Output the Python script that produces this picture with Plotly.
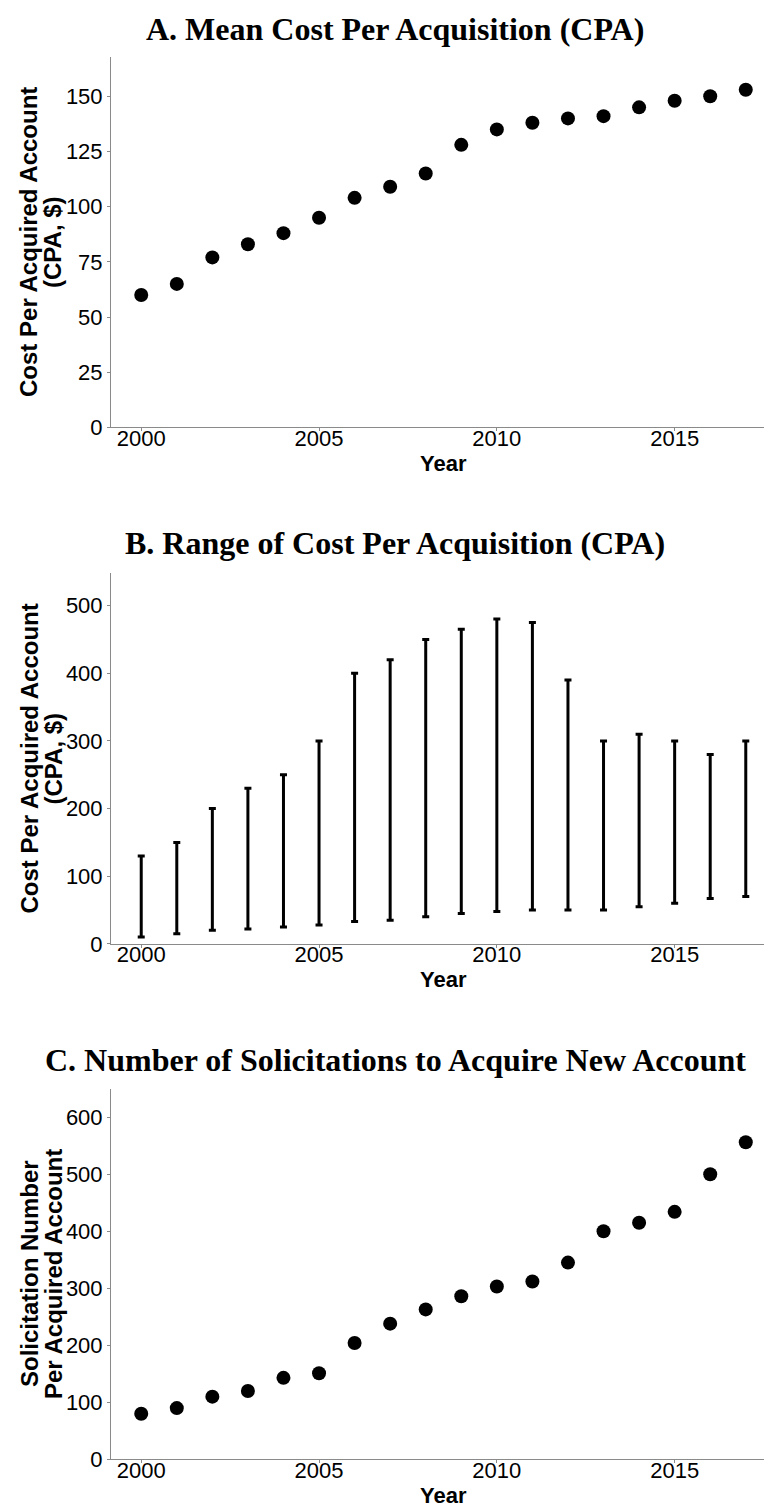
import plotly.graph_objects as go

years = list(range(2000, 2018))
mean_cpa = [60, 65, 77, 83, 88, 95, 104, 109, 115, 128, 135, 138, 140, 141, 145, 148, 150, 153]
cpa_low = [10, 15, 20, 22, 25, 28, 33, 35, 40, 45, 48, 50, 50, 50, 55, 60, 67, 70]
cpa_high = [130, 150, 200, 230, 250, 300, 400, 420, 450, 465, 480, 475, 390, 300, 310, 300, 280, 300]
solicitations = [80, 90, 110, 120, 143, 151, 204, 238, 263, 286, 303, 312, 345, 400, 415, 434, 500, 556]

titles = ["A. Mean Cost Per Acquisition (CPA)",
          "B. Range of Cost Per Acquisition (CPA)",
          "C. Number of Solicitations to Acquire New Account"]
ytitles = [("Cost Per Acquired Account", "(CPA, $)"),
           ("Cost Per Acquired Account", "(CPA, $)"),
           ("Solicitation Number", "Per Acquired Account")]
x_ticks = [2000, 2005, 2010, 2015]

W, H = 772, 1512
L, R = 103, 768
panels_px = [(49, 423), (570, 944), (1090, 1464)]
title_y_px = [21, 540, 1061]
yranges = [[0, 168], [0, 548], [0, 650]]
ytickvals = [[0, 25, 50, 75, 100, 125, 150], [0, 100, 200, 300, 400, 500], [0, 100, 200, 300, 400, 500, 600]]

def py(p):
    return 1 - p / H

def px_(p):
    return (p - L) / (R - L)

fig = go.Figure()

fig.add_trace(go.Scatter(x=years, y=mean_cpa, mode="markers",
                         marker=dict(size=14, color="black"),
                         xaxis="x", yaxis="y", showlegend=False))

mid = [(lo + hi) / 2 for lo, hi in zip(cpa_low, cpa_high)]
half = [(hi - lo) / 2 for lo, hi in zip(cpa_low, cpa_high)]
fig.add_trace(go.Scatter(x=years, y=mid, mode="markers",
                         marker=dict(size=1, color="rgba(0,0,0,0)"),
                         error_y=dict(type="data", array=half, symmetric=True,
                                      color="black", thickness=3, width=3.5),
                         xaxis="x2", yaxis="y2", showlegend=False))

fig.add_trace(go.Scatter(x=years, y=solicitations, mode="markers",
                         marker=dict(size=14, color="black"),
                         xaxis="x3", yaxis="y3", showlegend=False))

axis_common = dict(showgrid=False, zeroline=False, showline=True,
                   linecolor="#8a8a8a", linewidth=1, ticks="outside",
                   ticklen=3, tickcolor="#8a8a8a",
                   tickfont=dict(family="Liberation Sans, Arial", size=22, color="black"))

annotations = []
for i in range(3):
    top, bot = panels_px[i]
    sfx = "" if i == 0 else str(i + 1)
    fig.update_layout(**{
        "xaxis" + sfx: dict(axis_common, range=[1999.15, 2017.85], tickvals=x_ticks,
                            ticklabelstandoff=-12,
                            domain=[0, 1], anchor="y" + sfx),
        "yaxis" + sfx: dict(axis_common, range=yranges[i], tickvals=ytickvals[i],
                            domain=[py(bot), py(top)], anchor="x" + sfx),
    })
    annotations.append(dict(text="<b>" + titles[i] + "</b>", xref="paper", yref="paper",
                            x=px_(387), y=py(title_y_px[i]),
                            xanchor="center", yanchor="middle", showarrow=False,
                            font=dict(family="Liberation Serif, Times New Roman", size=32, color="black")))
    for line_txt, cx in zip(ytitles[i], (21, 45)):
        annotations.append(dict(text="<b>" + line_txt + "</b>", xref="paper", yref="paper",
                                x=px_(cx), y=py((top + bot) / 2),
                                xanchor="center", yanchor="middle", showarrow=False, textangle=-90,
                                font=dict(family="Liberation Sans, Arial", size=24, color="black")))
    annotations.append(dict(text="<b>Year</b>", xref="paper", yref="paper",
                            x=px_(435), y=py(bot + 36),
                            xanchor="center", yanchor="middle", showarrow=False,
                            font=dict(family="Liberation Sans, Arial", size=22, color="black")))

fig.update_layout(width=W, height=H, margin=dict(l=L, r=W - R, t=0, b=0),
                  plot_bgcolor="white", paper_bgcolor="white",
                  annotations=annotations, showlegend=False)

fig.write_html("out.html")
